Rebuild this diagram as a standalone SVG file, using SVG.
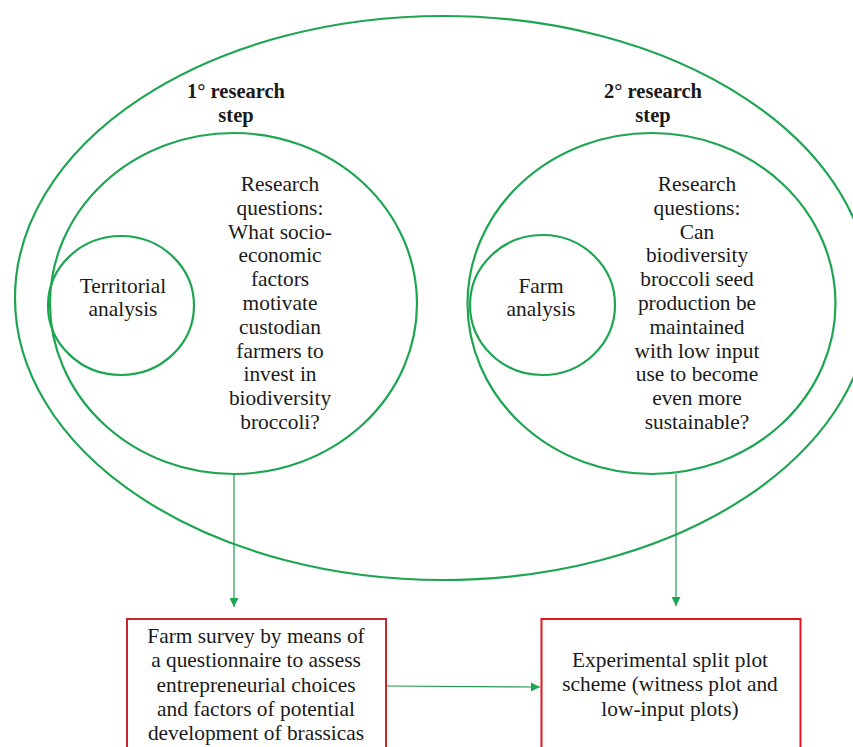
<svg xmlns="http://www.w3.org/2000/svg" width="853" height="747" viewBox="0 0 853 747">
<style>
.ell{fill:none;stroke:#1ea552;stroke-width:2.2}
.t{font-family:"Liberation Serif","Times New Roman",serif;font-size:21.4px;fill:#1a1a1a;text-anchor:middle}
.b{font-weight:bold;font-size:20.5px}
.con{stroke:#1f9a4e;stroke-width:1.2;fill:none}
.box{fill:#ffffff;stroke-width:2}
</style>
<defs>
<marker id="ah" viewBox="0 0 10 10" refX="10" refY="5" markerWidth="10" markerHeight="9" markerUnits="userSpaceOnUse" orient="auto">
<path d="M0,0 L10,5 L0,10 Z" fill="#1ea552"/>
</marker>
</defs>
<rect width="853" height="747" fill="#ffffff"/>
<g id="outer">
<ellipse class="ell" cx="443" cy="298" rx="428" ry="282"/>
</g>
<g id="step1">
<ellipse class="ell" cx="233.5" cy="303.5" rx="183.5" ry="170.5"/>
<text class="t b" x="236" y="98">1° research</text>
<text class="t b" x="236" y="122">step</text>
<text class="t" x="280" y="191">Research</text>
<text class="t" x="280" y="214.8">questions:</text>
<text class="t" x="280" y="238.6">What socio-</text>
<text class="t" x="280" y="262.4">economic</text>
<text class="t" x="280" y="286.2">factors</text>
<text class="t" x="280" y="310">motivate</text>
<text class="t" x="280" y="333.8">custodian</text>
<text class="t" x="280" y="357.6">farmers to</text>
<text class="t" x="280" y="381.4">invest in</text>
<text class="t" x="280" y="405.2">biodiversity</text>
<text class="t" x="280" y="429">broccoli?</text>
</g>
<g id="territorial">
<ellipse class="ell" cx="121" cy="305.5" rx="73" ry="69.5"/>
<text class="t" x="123" y="293">Territorial</text>
<text class="t" x="123" y="316">analysis</text>
</g>
<g id="step2">
<ellipse class="ell" cx="651.5" cy="303.5" rx="184" ry="170.5"/>
<text class="t b" x="653" y="98">2° research</text>
<text class="t b" x="653" y="122">step</text>
<text class="t" x="697" y="191">Research</text>
<text class="t" x="697" y="214.8">questions:</text>
<text class="t" x="697" y="238.6">Can</text>
<text class="t" x="697" y="262.4">biodiversity</text>
<text class="t" x="697" y="286.2">broccoli seed</text>
<text class="t" x="697" y="310">production be</text>
<text class="t" x="697" y="333.8">maintained</text>
<text class="t" x="697" y="357.6">with low input</text>
<text class="t" x="697" y="381.4">use to become</text>
<text class="t" x="697" y="405.2">even more</text>
<text class="t" x="697" y="429">sustainable?</text>
</g>
<g id="farm">
<ellipse class="ell" cx="542.5" cy="305" rx="72.5" ry="70"/>
<text class="t" x="541" y="293">Farm</text>
<text class="t" x="541" y="316">analysis</text>
</g>
<g id="survey">
<rect class="box" x="127" y="619" width="259" height="140" stroke="#c8262c"/>
<text class="t" x="256" y="643">Farm survey by means of</text>
<text class="t" x="256" y="667">a questionnaire to assess</text>
<text class="t" x="256" y="691.5">entrepreneurial choices</text>
<text class="t" x="256" y="716">and factors of potential</text>
<text class="t" x="256" y="740">development of brassicas</text>
</g>
<g id="experiment">
<rect class="box" x="541.5" y="619" width="259" height="140" stroke="#e3161d"/>
<text class="t" x="670" y="667">Experimental split plot</text>
<text class="t" x="670" y="691">scheme (witness plot and</text>
<text class="t" x="670" y="716">low-input plots)</text>
</g>
<g id="connectors">
<line class="con" x1="234" y1="474" x2="234" y2="607" marker-end="url(#ah)"/>
<line class="con" x1="676" y1="474" x2="676" y2="606" marker-end="url(#ah)"/>
<line class="con" x1="387" y1="686" x2="540" y2="687" marker-end="url(#ah)"/>
</g>
</svg>
